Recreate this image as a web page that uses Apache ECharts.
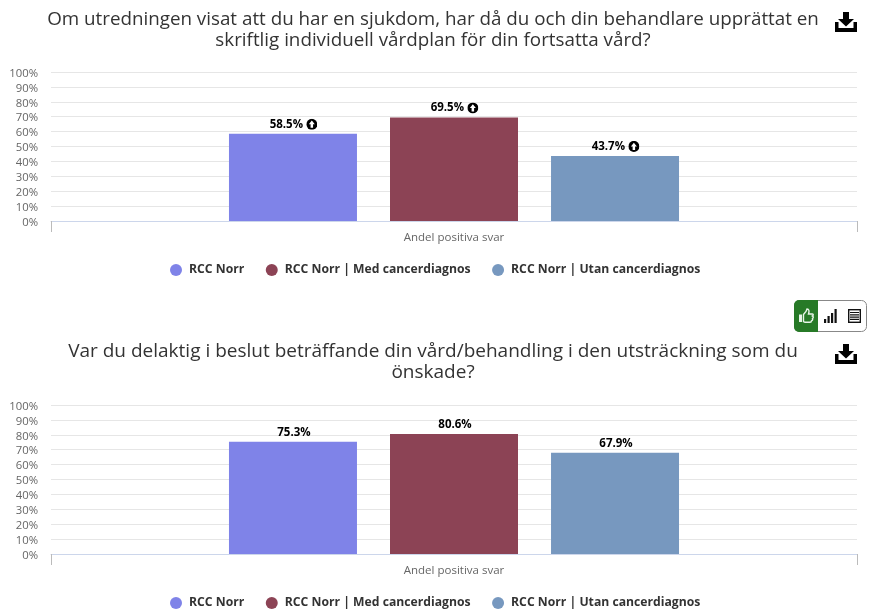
<!DOCTYPE html>
<html><head><meta charset="utf-8">
<style>html,body{margin:0;padding:0;background:#fff}#c{width:885px;height:612px}</style>
<script src="https://cdn.jsdelivr.net/npm/echarts@6/dist/echarts.min.js"></script>
</head><body><div id="c"></div>
<script>
const categories = ['Andel positiva svar'];
const seriesNames = ['RCC Norr', 'RCC Norr | Med cancerdiagnos', 'RCC Norr | Utan cancerdiagnos'];
const colors = ['#7f83e8', '#8c4355', '#7798bf'];
const chart1Values = [58.5, 69.5, 43.7];
const chart2Values = [75.3, 80.6, 67.9];
const titles = [
  'Om utredningen visat att du har en sjukdom, har då du och din behandlare upprättat en\nskriftlig individuell vårdplan för din fortsatta vård?',
  'Var du delaktig i beslut beträffande din vård/behandling i den utsträckning som du\nönskade?'
];
const FONT = '"Open Sans", sans-serif';
function svg(w,h,vb,body){ return 'data:image/svg+xml;utf8,' + encodeURIComponent('<svg xmlns="http://www.w3.org/2000/svg" width="'+w+'" height="'+h+'" viewBox="'+vb+'">'+body+'</svg>'); }
const upIcon = svg(11,11,'0 0 22 22','<circle cx="11" cy="11" r="11" fill="#000"/><path d="M11 3.5 17 11H13.5V18H8.5V11H5Z" fill="#fff"/>');
const downloadIcon = svg(22,20,'0 0 22 20','<path d="M8 0H14V7H19L11 14.5L3 7H8Z" fill="#000"/><path d="M0 10H3.5V16H18.500V10H22V20H0Z" fill="#000"/>');
const thumbIcon = svg(16,15,'0 0 16 15','<path d="M1 6.500H4V14H1Z" fill="#e8f5e8"/><path d="M5.500 6.500L8 3.500L9 1C11 1 11.500 3 10.500 6H14.500C15.500 6 15.500 7.500 14.500 8C15.500 8.500 15.500 10 14.500 10.500C15 11.500 14.500 12.500 13.500 12.800C13.500 13.800 13 14.300 12 14.300H7L5.500 13.500Z" fill="none" stroke="#e8f5e8" stroke-width="1.400"/>');
const barsIcon = svg(13,14,'0 0 13 14','<path d="M0 10H2.200V14H0ZM3.500 7H5.700V14H3.500ZM7 4H9.200V14H7ZM10.500 0H12.700V14H10.500Z" fill="#111"/>');
const tableIcon = svg(13,14,'0 0 13 14','<rect x=".7" y=".7" width="11.600" height="12.600" fill="#fff" stroke="#111" stroke-width="1.400"/><path d="M2 3.500H11M2 5.800H11M2 8.100H11M2 10.400H11" stroke="#111" stroke-width="1.200"/>');

function grid(top){ return {left:51, width:806, top:top, height:149}; }
function labelFmt(withIcon){
  return p => withIcon ? '{v|' + p.value.toFixed(1) + '%} {i|}' : '{v|' + p.value.toFixed(1) + '%}';
}
function mkSeries(vals, idx, withIcon){
  return vals.map((v,i)=>({
    name: seriesNames[i], type:'bar', xAxisIndex:idx, yAxisIndex:idx,
    data:[v], barWidth:128, barGap:'25.8%',
    itemStyle:{color:colors[i]},
    animation:false,
    label:{show:true, position:'top', distance:3.5, offset:[withIcon?0.5:1,0], formatter:labelFmt(withIcon),
      rich:{
        v:{fontFamily:FONT, fontSize:11.5, fontWeight:'bold', color:'#000'},
        i:{width:11, height:11, backgroundColor:{image:upIcon}}
      }}
  }));
}
function xAxis(idx){ return {gridIndex:idx, type:'category', data:categories,
  axisLine:{lineStyle:{color:'#ccd6eb', width:1}},
  axisTick:{show:true, length:11, lineStyle:{color:'#bbbbbb'}},
  axisLabel:{fontFamily:FONT, fontSize:11.5, color:'#666', margin:11}}; }
function yAxis(idx){ return {gridIndex:idx, type:'value', min:0, max:100, interval:10,
  axisLine:{show:false}, axisTick:{show:false},
  splitLine:{lineStyle:{color:'#e6e6e6', width:1}},
  axisLabel:{fontFamily:FONT, fontSize:11.3, color:'#666', margin:13, verticalAlign:'top', lineHeight:3, formatter:'{value}%'}}; }
function legend(top){ return {top:top, left:165, icon:'circle', itemWidth:12, itemHeight:12, itemGap:21.5,
  data:seriesNames, selectedMode:false,
  textStyle:{fontFamily:FONT, fontSize:12.2, fontWeight:'bold', color:'#333', padding:[0,0,0,2]}}; }
function title(text, top, size){ return {text:text, left:428, top:top, textAlign:'center',
  textStyle:{fontFamily:FONT, fontSize:size, fontWeight:'normal', color:'#333', lineHeight:21}}; }
function icon(src,x,y,w,h){ return {type:'image', x:x, y:y, style:{image:src, width:w, height:h}}; }

const elements = [
  icon(downloadIcon,835,12,22,20), icon(downloadIcon,835,344,22,20),
  {type:'rect', shape:{x:794.5,y:300.5,width:72,height:31,r:5}, style:{fill:'#fff',stroke:'#888',lineWidth:1}},
  {type:'rect', shape:{x:794,y:300,width:24,height:32,r:[5,0,0,5]}, style:{fill:'#277a27'}},
  icon(thumbIcon,798,308,16,15),
  icon(barsIcon,824,309,13,14),
  icon(tableIcon,848,309,13,14)
];

const option = {
  backgroundColor:'#fff', animation:false,
  title:[title(titles[0],4,18.8), title(titles[1],336,19)],
  grid:[grid(72), grid(405)],
  xAxis:[xAxis(0), xAxis(1)],
  yAxis:[yAxis(0), yAxis(1)],
  legend:[legend(259), legend(592)],
  series:[...mkSeries(chart1Values,0,true), ...mkSeries(chart2Values,1,false)],
  graphic:{elements:elements}
};
echarts.init(document.getElementById('c'),null,{renderer:'canvas'}).setOption(option);
</script></body></html>
